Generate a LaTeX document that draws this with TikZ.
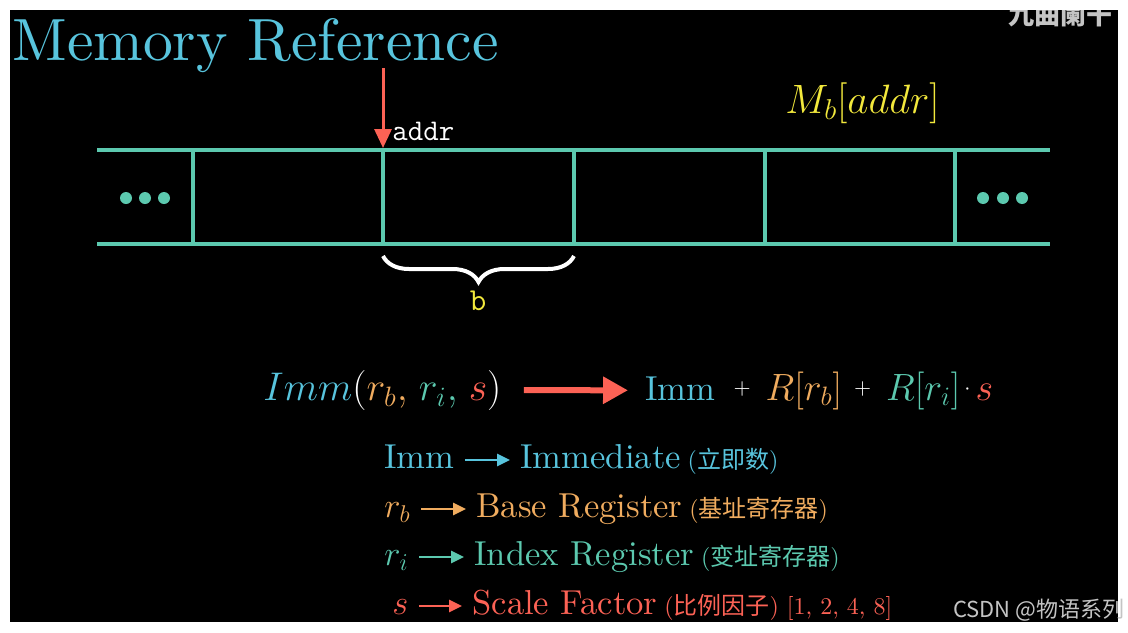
\RequirePackage{fix-cm}
\documentclass[tikz,border=0pt]{standalone}
\usepackage{fontspec}
\setmainfont{lmroman10-regular}[Extension=.otf,Ligatures=TeX]
\usetikzlibrary{arrows.meta,decorations.pathreplacing,positioning}
\newfontfamily\cjk{Noto Sans CJK SC}
\definecolor{mblue}{HTML}{58C4DD}
\definecolor{mteal}{HTML}{5CC9AF}
\definecolor{mred}{HTML}{FC6255}
\definecolor{mgold}{HTML}{F0AC5F}
\definecolor{myellow}{HTML}{F2E83C}
\definecolor{wmgray}{HTML}{C4C4C4}
\newcommand\opplus{\raisebox{3pt}{\fontsize{11}{11}\selectfont$+$}}
\newcommand\opdot{\raisebox{3pt}{\fontsize{11}{11}\selectfont$\cdot$}}
\tikzset{
  cellline/.style={mteal,line width=2pt},
  lbl/.style={inner sep=0pt,anchor=base west,font=\fontsize{17.3}{19}\selectfont,text height=12pt,text depth=4pt},
  cnlbl/.style={inner sep=0pt,anchor=base west,font=\fontsize{12}{13}\selectfont},
  listarrow/.style={line width=1.4pt,-{Triangle[length=6.5pt,width=6pt]},shorten <=5pt,shorten >=5pt},
}
\begin{document}
\begin{tikzpicture}[x=0.5pt,y=-0.5pt]
  % frame and marks
  \useasboundingbox (0,0) rectangle (1128,632);
  \fill[white] (0,0) rectangle (1128,632);
  \fill[black] (10,10) rectangle (1118,622);
  \begin{scope}
    \clip (10,10) rectangle (1118,622);
    \node[anchor=base east,inner sep=0pt,text=wmgray,font=\cjk\bfseries\fontsize{13}{13}\selectfont] (wmtop) at (1113,24) {九曲阑干};
  \end{scope}
  \node[anchor=base east,inner sep=0pt,text=wmgray,font=\cjk\fontsize{11}{12}\selectfont] (wmcsdn) at (1125,617) {CSDN @物语系列};
  \node[anchor=base west,inner sep=0pt,text=mblue,font=\fontsize{29.8}{32}\selectfont] (title) at (12,60) {Memory Reference};

  % memory strip
  \draw[cellline] (97,150) -- (1050,150);
  \draw[cellline] (97,244) -- (1050,244);
  \foreach \x in {193,383,574,765,955} \draw[cellline] (\x,150) -- (\x,244);
  \foreach \x in {126,145,164,983,1003,1022} \fill[mteal] (\x,198) circle[radius=3pt];
  \coordinate (addrtop) at (383,68);
  \coordinate (addrpt) at (383,148);
  \draw[mred,line width=1.5pt,-{Triangle[length=9.5pt,width=8.5pt]}] (addrtop) -- (addrpt);
  \node[anchor=base west,inner sep=0pt,text=white,font=\ttfamily\fontsize{15}{15}\selectfont] (addr) at (392,140) {addr};
  \node[anchor=base west,inner sep=0pt,text=myellow,font=\fontsize{20.5}{22}\selectfont] (mref) at (785,113) {$M_b[addr]$};
  \draw[white,line width=2pt,decorate,decoration={brace,mirror,amplitude=13pt}] (383,256) -- (574,256);
  \node[anchor=base,inner sep=0pt,text=myellow,font=\ttfamily\fontsize{16}{16}\selectfont] (bsize) at (478,310) {b};

  % formula
  \node[anchor=base west,inner sep=0pt,text=white,font=\fontsize{20}{22}\selectfont] (lhs) at (263,400)
    {$\color{mblue}Imm{\color{white}(}{\color{mgold}r_b,}\;{\color{mteal}r_i,}\;{\color{mred}s}{\color{white})}$};
  \node[anchor=base west,inner sep=0pt,text=white,font=\fontsize{19}{21}\selectfont] (rhs) at (645,400)
    {{\color{mblue}\fontsize{17.3}{19}\selectfont Imm}\hspace{9pt}\opplus\hspace{7.5pt}$\color{mgold}R[r_b]$\hspace{6pt}\opplus\hspace{7.5pt}$\color{mteal}R[r_i]$\hspace{2pt}\opdot\hspace{2.5pt}$\color{mred}s$};
  \draw[mred,line width=3pt,-{Triangle[length=12.5pt,width=13pt]},shorten <=11pt,shorten >=8.5pt] (lhs) -- (rhs);

  % legend
  \node[lbl,text=mblue] (imm) at (384,468) {Imm};
  \node[lbl,text=mblue] (immname) at (520,468) {Immediate};
  \node[cnlbl,text=mblue] (immcn) at ([xshift=3pt]immname.base east) {({\cjk 立即数})};
  \draw[listarrow,mblue] (imm) -- (immname);

  \node[lbl,text=mgold] (rb) at (384,517) {$r_b$};
  \node[lbl,text=mgold] (rbname) at (476,517) {Base Register};
  \node[cnlbl,text=mgold] (rbcn) at ([xshift=3pt]rbname.base east) {({\cjk 基址寄存器})};
  \draw[listarrow,mgold] (rb) -- (rbname);

  \node[lbl,text=mteal] (ri) at (384,565) {$r_i$};
  \node[lbl,text=mteal] (riname) at (474,565) {Index Register};
  \node[cnlbl,text=mteal] (ricn) at ([xshift=3pt]riname.base east) {({\cjk 变址寄存器})};
  \draw[listarrow,mteal] (ri) -- (riname);

  \node[lbl,text=mred] (sc) at (392,614) {$s$};
  \node[lbl,text=mred] (scname) at (472,614) {Scale Factor};
  \node[cnlbl,text=mred] (sccn) at ([xshift=3pt]scname.base east) {({\cjk 比例因子}) [1, 2, 4, 8]};
  \draw[listarrow,mred] (sc) -- (scname);
\end{tikzpicture}
\end{document}
